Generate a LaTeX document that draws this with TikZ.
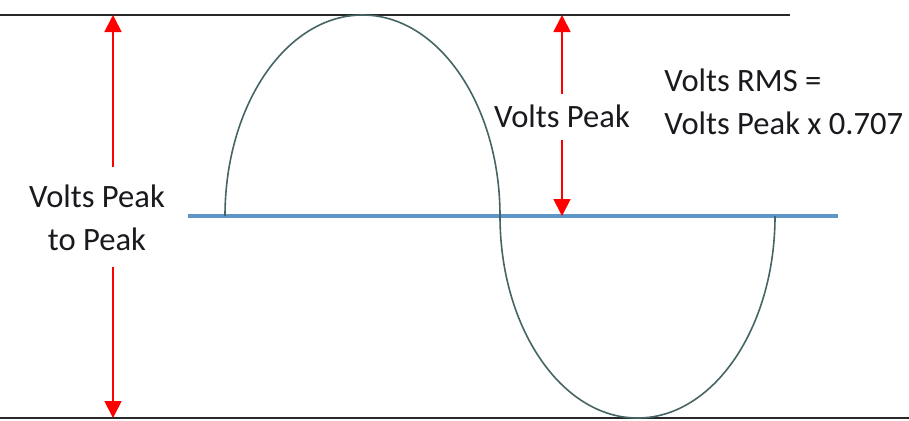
\documentclass[tikz,border=0pt]{standalone}
\usepackage{fontspec}
\setmainfont{Carlito}
\usetikzlibrary{arrows.meta}

\definecolor{linea}{RGB}{40,40,40}
\definecolor{azul}{RGB}{95,150,200}
\definecolor{onda}{RGB}{70,100,100}
\definecolor{texto}{RGB}{25,25,30}

\begin{document}
\begin{tikzpicture}[
    x=0.5pt,
    y=-0.5pt,
    nivel/.style={draw=linea, line width=1.2pt},
    cero/.style={draw=azul, line width=1.6pt},
    onda/.style={draw=onda, line width=0.8pt},
    flecha/.style={draw=red, line width=0.9pt, -{Triangle[width=8.5pt,length=8.5pt]}},
    rotulo/.style={font=\fontsize{16.3}{21.5}\selectfont, text=texto, inner sep=0pt}
]
\useasboundingbox (0,0) rectangle (909,420);

% Niveles de pico y eje cero
\draw[nivel] (0,15) -- (790,15);
\draw[nivel] (0,418) -- (909,418);
\draw[cero] (188,216) -- (838,216);

% Onda (dos semielipses)
\draw[onda] (225,216) arc[start angle=180, end angle=0, x radius=68.75pt, y radius=100.5pt]
    arc[start angle=180, end angle=360, x radius=68.75pt, y radius=101pt];

% Rotulos
\node[rotulo, align=center] (pp) at (97,218) {Volts Peak\\to Peak};
\node[rotulo] (vp) at (562,116) {Volts Peak};
\node[rotulo, align=left, anchor=west] (rms) at (664,102) {Volts RMS =\\Volts Peak x 0.707};

% Extremos de las flechas
\coordinate (ppArriba) at (113,15);
\coordinate (ppAbajo) at (113,418);
\coordinate (ppSup) at (113,167);
\coordinate (ppInf) at (113,267);
\coordinate (vpArriba) at (562,15);
\coordinate (vpAbajo) at (562,216);
\coordinate (vpSup) at (562,94);
\coordinate (vpInf) at (562,140);

\draw[flecha] (ppSup) -- (ppArriba);
\draw[flecha] (ppInf) -- (ppAbajo);
\draw[flecha] (vpSup) -- (vpArriba);
\draw[flecha] (vpInf) -- (vpAbajo);

\end{tikzpicture}
\end{document}
